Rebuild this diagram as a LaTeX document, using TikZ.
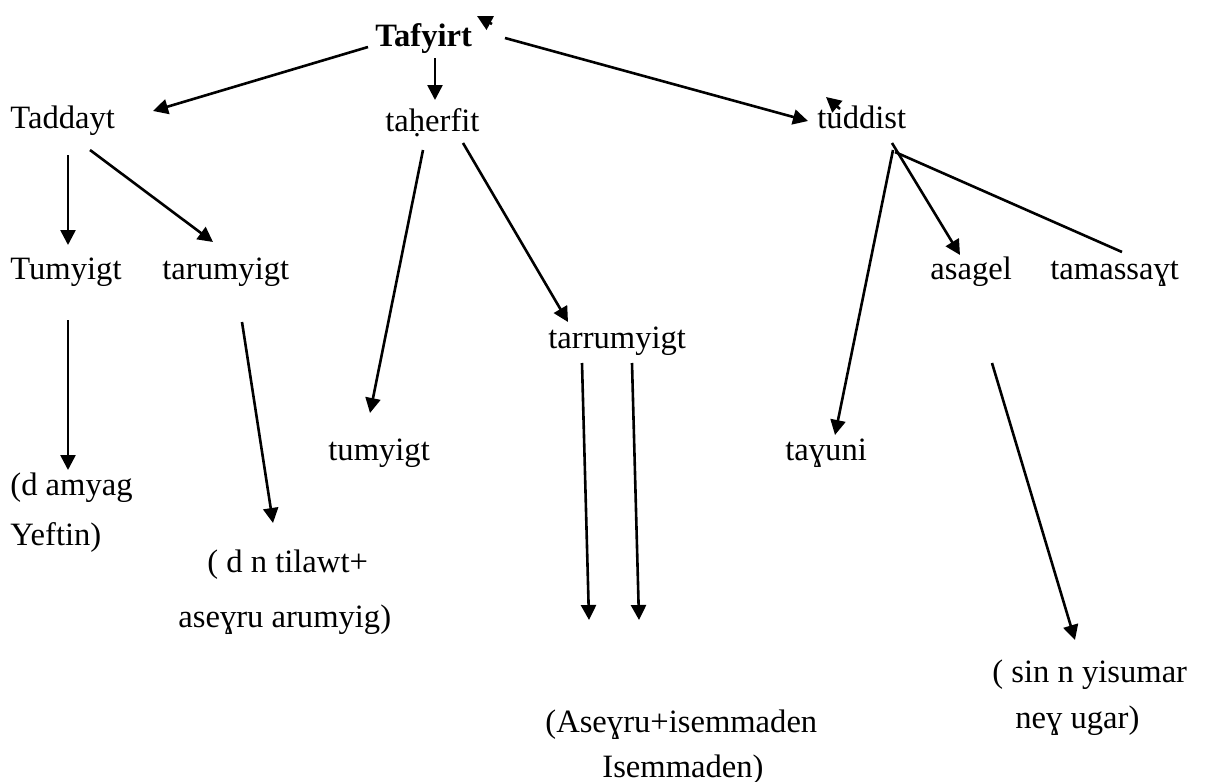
\documentclass[tikz,border=0pt]{standalone}
\usepackage{fontspec}
\setmainfont{Liberation Serif}
\usetikzlibrary{arrows.meta}
\begin{document}
\begin{tikzpicture}[x=0.5pt,y=-0.5pt,
  lbl/.style={anchor=base west, inner sep=0pt, font=\fontsize{16.3}{20}\selectfont},
  arr/.style={line width=1.3pt, -{Triangle[length=7.5pt,width=7.5pt]}},
  ln/.style={line width=1.3pt}]
\useasboundingbox (0,0) rectangle (1228,782);
% nodes
\node[lbl, font=\fontsize{16.3}{20}\selectfont\bfseries] (tafyirt) at (375,46) {Tafyirt};
\node[lbl] (taddayt) at (10,128) {Taddayt};
\node[lbl] (taherfit) at (385,131) {taḥerfit};
\node[lbl] (tuddist) at (817,128) {tuddist};
\node[lbl] (tumyigtA) at (10,279) {Tumyigt};
\node[lbl] (tarumyigt) at (162,279) {tarumyigt};
\node[lbl] (asagel) at (930,279) {asagel};
\node[lbl] (tamassayt) at (1050,279) {tamassaɣt};
\node[lbl] (tarrumyigt) at (548,348) {tarrumyigt};
\node[lbl] (tumyigtB) at (328,460) {tumyigt};
\node[lbl] (tayuni) at (785,460) {taɣuni};
\node[lbl] (amyag1) at (10,495) {(d amyag};
\node[lbl] (amyag2) at (10,545) {Yeftin)};
\node[lbl] (tilawt1) at (207,572) {( d n tilawt+};
\node[lbl] (tilawt2) at (178,627) {aseɣru arumyig)};
\node[lbl] (isem1) at (545,732) {(Aseɣru+isemmaden};
\node[lbl] (isem2) at (602,777) {Isemmaden)};
\node[lbl] (sin1) at (992,682) {( sin n yisumar};
\node[lbl] (sin2) at (1015,728) {neɣ ugar)};
% connector end points
\coordinate (a1s) at (368,47);  \coordinate (a1e) at (153,111);
\coordinate (a2s) at (435,58);  \coordinate (a2e) at (435,100);
\coordinate (a3s) at (505,38);  \coordinate (a3e) at (808,121);
\coordinate (a4s) at (68,155);  \coordinate (a4e) at (68,245);
\coordinate (a5s) at (90,150);  \coordinate (a5e) at (213,242);
\coordinate (a6s) at (68,320);  \coordinate (a6e) at (68,470);
\coordinate (a7s) at (242,322); \coordinate (a7e) at (273,523);
\coordinate (a8s) at (423,150); \coordinate (a8e) at (370,413);
\coordinate (a9s) at (463,143); \coordinate (a9e) at (568,322);
\coordinate (b1s) at (582,363); \coordinate (b1e) at (589,620);
\coordinate (b2s) at (632,363); \coordinate (b2e) at (639,620);
\coordinate (c1s) at (893,150); \coordinate (c1e) at (835,435);
\coordinate (c2s) at (892,143); \coordinate (c2e) at (960,255);
\coordinate (c3s) at (895,152); \coordinate (c3e) at (1122,252);
\coordinate (d1s) at (992,363); \coordinate (d1e) at (1075,640);
\coordinate (s1s) at (492,24);  \coordinate (s1e) at (477,16);
\coordinate (s2s) at (840,109); \coordinate (s2e) at (826,97);
% connectors
\draw[arr] (a1s) -- (a1e);
\draw[arr] (a2s) -- (a2e);
\draw[arr] (a3s) -- (a3e);
\draw[arr] (a4s) -- (a4e);
\draw[arr] (a5s) -- (a5e);
\draw[arr] (a6s) -- (a6e);
\draw[arr] (a7s) -- (a7e);
\draw[arr] (a8s) -- (a8e);
\draw[arr] (a9s) -- (a9e);
\draw[arr] (b1s) -- (b1e);
\draw[arr] (b2s) -- (b2e);
\draw[arr] (c1s) -- (c1e);
\draw[arr] (c2s) -- (c2e);
\draw[ln] (c3s) -- (c3e);
\draw[arr] (d1s) -- (d1e);
\draw[arr] (s1s) -- (s1e);
\draw[arr] (s2s) -- (s2e);
\end{tikzpicture}
\end{document}
